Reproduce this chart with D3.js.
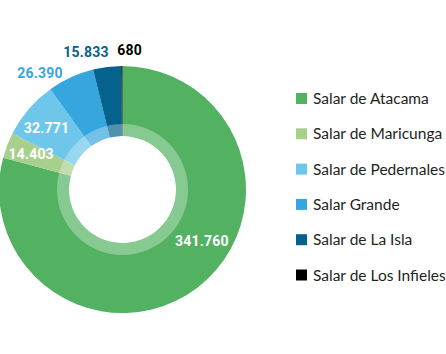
<!DOCTYPE html>
<html>
<head>
<meta charset="utf-8">
<script src="https://cdn.jsdelivr.net/npm/d3@7"></script>
<style>
  body { margin: 0; background: #fff; }
  .value { font-family: Roboto, sans-serif; font-weight: bold; font-size: 14px; letter-spacing: 0.2px; }
  .legend text { font-family: Lato, sans-serif; font-size: 15.5px; fill: #231f20; }
</style>
</head>
<body>
<svg id="chart"></svg>
<script>
const categories = ['Salar de Atacama', 'Salar de Maricunga', 'Salar de Pedernales', 'Salar Grande', 'Salar de La Isla', 'Salar de Los Infieles'];
const values = [341760, 14403, 32771, 26390, 15833, 680];
const valueLabels = ['341.760', '14.403', '32.771', '26.390', '15.833', '680'];
const colors = ['#52b262', '#a8d08d', '#6ec6ea', '#36a7de', '#04628c', '#000000'];

const width = 446, height = 354;
const cx = 122.5, cy = 189.5;
const outerR = 123.5, ringR = 65.5, holeR = 53.5;

// where each value label sits: [angle in degrees from top, radius], inside or outside
const labelPos = [[123, 94.7, 'in'], [291.2, 98, 'in'], [309.2, 98, 'in'], [324.8, 143, 'out'], [345.1, 142.3, 'out'], [2.9, 140.2, 'out']];

const svg = d3.select('#chart').attr('width', width).attr('height', height);
const g = svg.append('g').attr('transform', `translate(${cx},${cy})`);

const pie = d3.pie().sort(null).value(d => d)(values);
const arc = d3.arc().innerRadius(holeR).outerRadius(outerR);

g.selectAll('path.slice')
  .data(pie)
  .enter()
  .append('path')
  .attr('class', 'slice')
  .attr('d', arc)
  .attr('fill', (d, i) => colors[i]);

// lighter ring near the hole
g.append('path')
  .attr('d', d3.arc().innerRadius(holeR).outerRadius(ringR).startAngle(0).endAngle(2 * Math.PI)())
  .attr('fill', '#fff')
  .attr('fill-opacity', 0.3);

g.selectAll('text.value')
  .data(pie)
  .enter()
  .append('text')
  .attr('class', 'value')
  .attr('x', (d, i) => labelPos[i][1] * Math.sin(labelPos[i][0] * Math.PI / 180))
  .attr('y', (d, i) => -labelPos[i][1] * Math.cos(labelPos[i][0] * Math.PI / 180))
  .attr('dy', '0.36em')
  .attr('text-anchor', 'middle')
  .attr('fill', (d, i) => labelPos[i][2] === 'in' ? '#fff' : colors[i])
  .text((d, i) => valueLabels[i]);

// legend
const ly = d3.scalePoint().domain(categories).range([98.5, 275]);
const legend = svg.append('g').attr('class', 'legend');
const rows = legend.selectAll('g')
  .data(categories)
  .enter()
  .append('g')
  .attr('transform', d => `translate(296,${ly(d)})`);
rows.append('rect')
  .attr('x', 0).attr('y', -5.5)
  .attr('width', 11).attr('height', 11)
  .attr('fill', (d, i) => colors[i]);
rows.append('text')
  .attr('x', 17)
  .attr('dy', '0.36em')
  .text(d => d);
</script>
</body>
</html>
